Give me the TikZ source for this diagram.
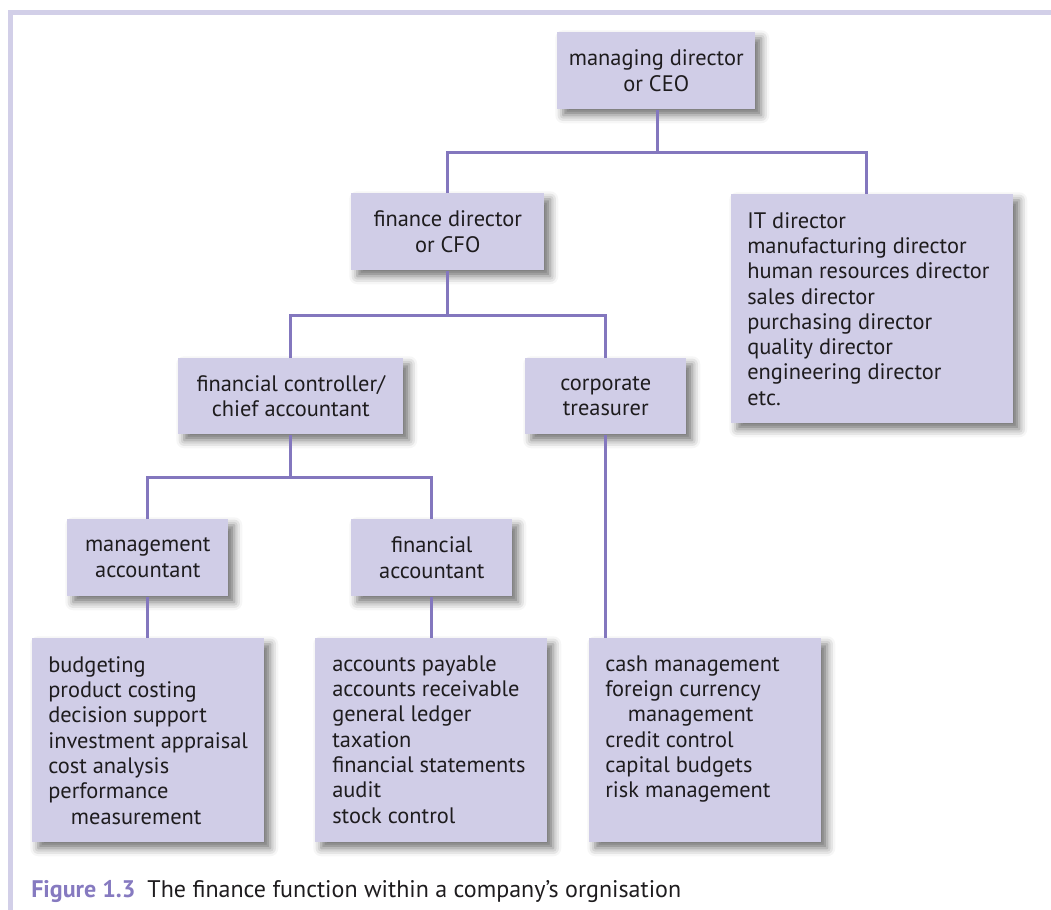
\documentclass[tikz,border=0pt]{standalone}
\usepackage{fontspec}
\setmainfont{PT Sans}
\usetikzlibrary{shadows.blur}
\definecolor{boxfill}{RGB}{208,205,231}
\definecolor{linkcol}{RGB}{131,119,190}
\definecolor{framecol}{RGB}{210,207,232}
\definecolor{inkcol}{RGB}{30,28,30}
\definecolor{capcol}{RGB}{134,122,192}

\begin{document}
\begin{tikzpicture}[x=0.75pt,y=-0.75pt,
  every node/.style={text=inkcol, font=\fontsize{16.8pt}{19pt}\selectfont},
  wh/.style 2 args={minimum width=#1*0.75pt, minimum height=#2*0.75pt},
  box/.style={fill=boxfill, draw=none, inner sep=0pt, anchor=north west, align=center,
    blur shadow={shadow xshift=4.5pt, shadow yshift=-4.5pt,
                 shadow blur radius=6pt, shadow opacity=55}},
  ltext/.style={anchor=base west, inner sep=0pt},
  link/.style={draw=linkcol, line width=2.25pt},
  frame/.style={draw=framecol, line width=3.75pt}]

\useasboundingbox (0,0) rectangle (1051,910);

% page frame
\draw[frame] (10.8,910) -- (10.8,12.7) -- (1051,12.7);

% titled boxes
\node[box, wh={198}{77}] (ceo) at (557,32)  {managing director\\or CEO};
\node[box, wh={193}{77}] (cfo) at (351,193) {finance director\\or CFO};
\node[box, wh={225}{76}] (fc)  at (178,358) {financial controller/\\chief accountant};
\node[box, wh={161}{76}] (tre) at (525,358) {corporate\\treasurer};
\node[box, wh={161}{77}] (ma)  at (67,519)  {management\\accountant};
\node[box, wh={161}{77}] (fa)  at (351,519) {financial\\accountant};

% list boxes
\node[box, wh={282}{229}] (it)   at (731,194) {};
\node[box, wh={232}{204}] (bud)  at (32,638)  {};
\node[box, wh={232}{204}] (acc)  at (315,638) {};
\node[box, wh={232}{204}] (cash) at (589,638) {};

\node[ltext] (it-t) at ([xshift=12pt,yshift=-25.5pt]it.north west)
  {\parbox[t]{200pt}{IT director\\manufacturing director\\human resources director\\sales director\\purchasing director\\quality director\\engineering director\\etc.}};
\node[ltext] (bud-t) at ([xshift=12pt,yshift=-25.5pt]bud.north west)
  {\parbox[t]{165pt}{budgeting\\product costing\\decision support\\investment appraisal\\cost analysis\\performance\\\hspace*{17pt}measurement}};
\node[ltext] (acc-t) at ([xshift=12.75pt,yshift=-24.75pt]acc.north west)
  {\parbox[t]{165pt}{accounts payable\\accounts receivable\\general ledger\\taxation\\financial statements\\audit\\stock control}};
\node[ltext] (cash-t) at ([xshift=12pt,yshift=-24.75pt]cash.north west)
  {\parbox[t]{165pt}{cash management\\foreign currency\\\hspace*{17pt}management\\credit control\\capital budgets\\risk management}};

% connectors
\coordinate (j1) at (657,152);
\coordinate (itx) at (866,152);
\draw[link] (ceo.south -| j1) -- (j1);
\draw[link] (cfo.north) |- (itx) -- (it.north -| itx);

\coordinate (j2) at ([yshift=-33.75pt]cfo.south);
\draw[link] (cfo.south) -- (j2);
\draw[link] (fc.north) |- (j2) -| (tre.north);

\coordinate (j3) at ([yshift=-32.25pt]fc.south);
\draw[link] (fc.south) -- (j3);
\draw[link] (ma.north) |- (j3) -| (fa.north);

\draw[link] (ma.south) -- (ma.south |- bud.north);
\draw[link] (fa.south) -- (fa.south |- acc.north);
\draw[link] (tre.south) -- (tre.south |- cash.north);

% caption
\node[anchor=base west, inner sep=0pt, font=\fontsize{18pt}{20pt}\selectfont] (cap) at (31,897)
  {{\color{capcol}\bfseries Figure 1.3}\hspace{0.5em}The finance function within a company’s orgnisation};
\end{tikzpicture}
\end{document}
